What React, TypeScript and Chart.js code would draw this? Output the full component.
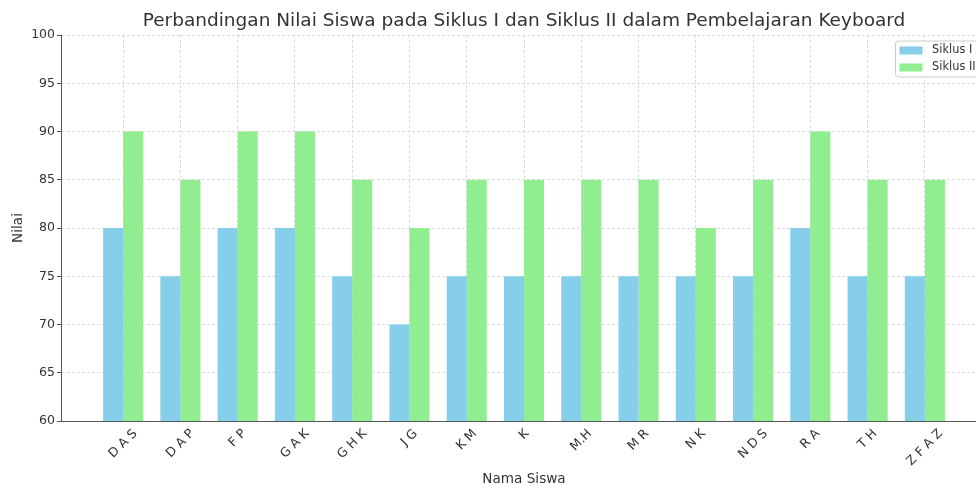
import React, { useEffect, useRef } from 'react';
import { Chart, registerables } from 'chart.js';

Chart.register(...registerables);

const TITLE = 'Perbandingan Nilai Siswa pada Siklus I dan Siklus II dalam Pembelajaran Keyboard';
const X_TITLE = 'Nama Siswa';
const Y_TITLE = 'Nilai';

const students = ['D A S', 'D A P', 'F P', 'G A K', 'G H K', 'J G', 'K M', 'K', 'M.H', 'M R', 'N K', 'N D S', 'R A', 'T H', 'Z F A Z'];
const seriesNames = ['Siklus I', 'Siklus II'];
const siklus1 = [80, 75, 80, 80, 75, 70, 75, 75, 75, 75, 75, 75, 80, 75, 75];
const siklus2 = [90, 85, 90, 90, 85, 80, 85, 85, 85, 85, 80, 85, 90, 85, 85];
const yMin = 60;
const yMax = 100;
const yStep = 5;

const colors = ['#87CEEB', '#90EE90'];
const FONT = '"DejaVu Sans", sans-serif';
const TEXT = '#333333';

const overlayPlugin = {
  id: 'overlay',
  afterDraw(chart: any) {
    const ctx = chart.ctx;
    const xs = chart.scales.x;
    const ca = chart.chartArea;
    ctx.save();
    // title
    ctx.font = `18.5px ${FONT}`;
    ctx.fillStyle = TEXT;
    ctx.textAlign = 'center';
    ctx.textBaseline = 'middle';
    ctx.fillText(TITLE, (ca.left + ca.right) / 2, 21);

    // x tick labels (rotated, centred on tick)
    const fs = 12.6;
    ctx.font = `${fs}px ${FONT}`;
    const h = fs * 1.16;
    students.forEach((s, i) => {
      const x = xs.getPixelForValue(i);
      const w = ctx.measureText(s).width;
      const H = (w + h) / Math.SQRT2;
      const cy = xs.top + 5.5 + H / 2;
      ctx.save();
      ctx.translate(x, cy);
      ctx.rotate(-Math.PI / 4);
      ctx.fillText(s, 0, 0);
      ctx.restore();
    });

    // legend
    const bx = ca.right - 92;
    const by = ca.top + 5.5;
    const bw = 86;
    const bh = 36;
    ctx.beginPath();
    (ctx as any).roundRect(bx + 0.5, by + 0.5, bw, bh, 3);
    ctx.fillStyle = 'rgba(255,255,255,0.8)';
    ctx.fill();
    ctx.strokeStyle = '#cccccc';
    ctx.lineWidth = 1;
    ctx.stroke();
    ctx.font = `11.4px ${FONT}`;
    ctx.textAlign = 'left';
    seriesNames.forEach((n, i) => {
      const cy = by + 10 + i * 17;
      ctx.fillStyle = colors[i];
      ctx.fillRect(bx + 4.5, cy - 4, 23, 8);
      ctx.fillStyle = TEXT;
      ctx.fillText(n, bx + 37, cy);
    });
    ctx.restore();
  },
};

export default function App() {
  const ref = useRef<HTMLCanvasElement | null>(null);
  useEffect(() => {
    if (!ref.current) return;
    const chart = new Chart(ref.current, {
      type: 'bar',
      data: {
        datasets: [
          {
            label: seriesNames[0],
            data: siklus1.map((v, i) => ({ x: i, y: v })),
            backgroundColor: colors[0],
            borderWidth: 0,
            categoryPercentage: 0.7,
            barPercentage: 1.0,
          },
          {
            label: seriesNames[1],
            data: siklus2.map((v, i) => ({ x: i, y: v })),
            backgroundColor: colors[1],
            borderWidth: 0,
            categoryPercentage: 0.7,
            barPercentage: 1.0,
          },
        ],
      },
      options: {
        responsive: false,
        animation: false,
        devicePixelRatio: 1,
        layout: { padding: { left: 0, right: 3, top: 35, bottom: 0 } },
        plugins: {
          legend: { display: false },
          title: { display: false },
          tooltip: { enabled: false },
        },
        scales: {
          x: {
            type: 'linear',
            min: -1.085,
            max: 15.085,
            offset: false,
            afterBuildTicks: (scale: any) => {
              scale.ticks = students.map((_, i) => ({ value: i }));
            },
            afterFit: (scale: any) => {
              scale.height = 67;
            },
            ticks: { display: false },
            grid: {
              display: true,
              offset: false,
              color: '#d3d3d3',
              lineWidth: 0.8,
              drawTicks: false,
            },
            border: { display: true, color: '#555555', width: 1, dash: [3, 2] },
            title: {
              display: true,
              text: X_TITLE,
              color: TEXT,
              font: { family: FONT, size: 13.6 },
              padding: { top: 0, bottom: 0 },
            },
          },
          y: {
            type: 'linear',
            min: yMin,
            max: yMax,
            afterFit: (scale: any) => {
              scale.width = 61;
            },
            ticks: {
              stepSize: yStep,
              color: TEXT,
              font: { family: FONT, size: 12.5 },
              padding: 2,
            },
            grid: {
              display: true,
              color: '#d3d3d3',
              lineWidth: 0.8,
              drawTicks: true,
              tickLength: 4,
              tickColor: '#555555',
              tickWidth: 1,
              tickBorderDash: [],
            },
            border: { display: true, color: '#555555', width: 1, dash: [3, 2] },
            title: {
              display: true,
              text: Y_TITLE,
              color: TEXT,
              font: { family: FONT, size: 13.6 },
              padding: { top: 10.5, bottom: 0 },
            },
          },
        },
      } as any,
      plugins: [overlayPlugin],
    });
    return () => chart.destroy();
  }, []);
  return (
    <div style={{ position: 'fixed', left: 0, top: 0, width: 976, height: 488, overflow: 'hidden', background: '#fff' }}>
      <canvas ref={ref} width={990} height={488} style={{ width: 990, height: 488, display: 'block' }} />
    </div>
  );
}
